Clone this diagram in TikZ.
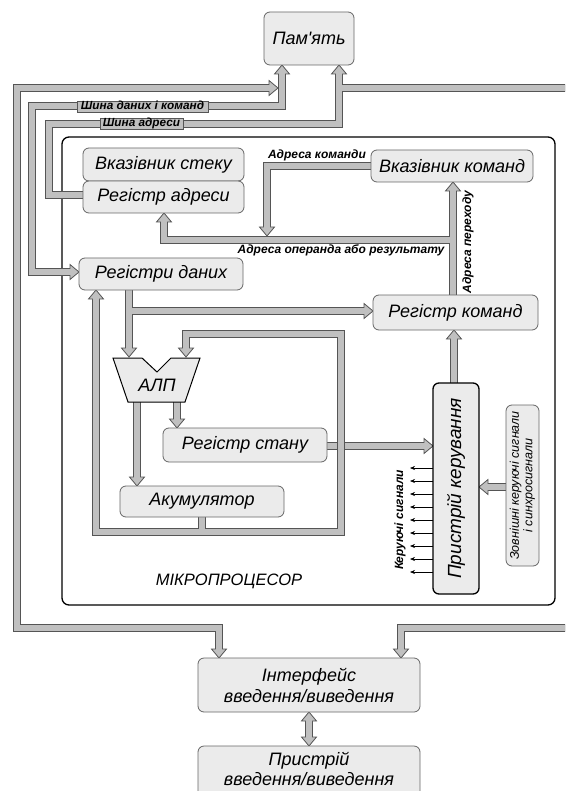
\documentclass[tikz,border=0pt]{standalone}
\usepackage{fontspec}
\setmainfont{Liberation Sans}
\usetikzlibrary{arrows.meta}
\definecolor{busfill}{HTML}{C0C0C0}
\definecolor{busline}{HTML}{555555}
\definecolor{boxfill}{HTML}{EBEBEB}
\definecolor{boxline}{HTML}{666666}
\newcommand\mainf{\fontsize{18}{21}\selectfont\itshape}
\newcommand\lblf{\fontsize{12}{14}\selectfont\bfseries\itshape}
\newcommand\busf{\fontsize{11.8}{12}\selectfont\bfseries\itshape}
\newcommand\btip[2]{\draw[tipstyle,shift={#1},rotate=#2] (0,0) -- (-9,7.5) -- (-9,-7.5) -- cycle;}
\newcommand\allbus[1]{%
 \draw[#1] (219,650) -- (219,628) -- (17,628) -- (17,88) -- (270,88);
 \draw[#1] (575,88) -- (339,88);
 \draw[#1] (339,73) -- (339,124) -- (49,124) -- (49,195) -- (ra.west |- 0,195);
 \draw[#1] (575,628) -- (401,628) -- (401,650);
 \draw[#1] (282,73) -- (282,106) -- (32,106) -- (32,272) -- (71,272);
 \draw[#1] (vk.west) -| (267,228);
 \draw[#1] (164,221) -- (164,240) -- (453,240);
 \draw[#1] (453,295) -- (453,190);
 \draw[#1] (129,290) -- (129,349);
 \draw[#1] (129,311) -- (365,311);
 \draw[#1] (96,298) -- (96,532) -- (341,532) -- (341,334) -- (186,334) -- (186,349);
 \draw[#1] (202,517) -- (202,532);
 \draw[#1] (137,400) -- (137,478);
 \draw[#1] (177,400) -- (177,420);
 \draw[#1] (454,384) -- (454,338);
 \draw[#1] (507,487) -- (487,487);
 \draw[#1] (309,720) -- (309,738);
}
\begin{document}
\begin{tikzpicture}[x=1pt,y=-1pt,
  box/.style={draw=boxline,fill=boxfill,rounded corners=6pt,line width=0.8pt,inner sep=0pt,font=\mainf,align=center},
  busout/.style={draw=busline,line width=8pt,line join=miter,line cap=butt},
  busin/.style={draw=busfill,line width=6pt,line join=miter,line cap=butt},
  tipstyle/.style={draw=busline,fill=busfill,line width=0.8pt,line join=miter},
  buslbl/.style={draw=busline,fill=busfill,line width=0.8pt,inner sep=0pt,minimum height=11pt,text height=8.4pt,text depth=2pt,font=\busf},
  lbl/.style={font=\lblf,inner sep=0pt},
  sig/.style={-{Stealth[length=5pt,width=4pt]},line width=0.6pt}]
\clip (0,0) rectangle (565,791);
\fill[white] (0,0) rectangle (565,791);
% microprocessor frame
\draw[line width=1.3pt,rounded corners=7pt] (62,137) rectangle (555,605);
\node[font=\fontsize{16.5}{18}\selectfont\itshape] (mptext) at (229,581) {МІКРОПРОЦЕСОР};
% anchor helpers for the buses
\path (452,166) node[minimum width=162pt,minimum height=32pt,inner sep=0pt] (vk) {};
\coordinate (ra) at (83,197);
% status register bus (under the loop bus)
\draw[busout] (327,446) -- (425,446);
\btip{(433,446)}{0}
\draw[busin] (327,446) -- (425,446);
% all other buses
\allbus{busout}
\btip{(278,88)}{0}
\btip{(339,65)}{90}
\btip{(282,65)}{90}
\btip{(219,658)}{-90}
\btip{(401,658)}{-90}
\btip{(79,272)}{0}
\btip{(267,236)}{-90}
\btip{(164,213)}{90}
\btip{(453,182)}{90}
\btip{(129,357)}{-90}
\btip{(373,311)}{0}
\btip{(96,290)}{90}
\btip{(186,357)}{-90}
\btip{(137,486)}{-90}
\btip{(177,428)}{-90}
\btip{(454,330)}{90}
\btip{(479,487)}{180}
\btip{(309,712)}{90}
\btip{(309,746)}{-90}
\allbus{busin}
% bus labels
\node[buslbl,minimum width=131pt] (l1) at (142.5,106.5) {Шина даних і команд};
\node[buslbl,minimum width=83pt] (l2) at (141.5,123.5) {Шина адреси};
% boxes
\node[box,minimum width=90pt,minimum height=53pt] (mem) at (309,38.5) {Пам\textquotesingle ять};
\node[box,minimum width=161pt,minimum height=33pt] (vs) at (163.5,164.5) {Вказівник стеку};
\node[box,minimum width=161pt,minimum height=32pt] (rareg) at (163.5,197) {Регістр адреси};
\node[box,minimum width=162pt,minimum height=32pt] (vkreg) at (452,166) {Вказівник команд};
\node[box,minimum width=164pt,minimum height=32pt] (rd) at (161,274) {Регістри даних};
\node[box,minimum width=165pt,minimum height=35pt] (rk) at (455.5,312.5) {Регістр команд};
\node[box,minimum width=164pt,minimum height=34pt] (rs) at (245,445) {Регістр стану};
\node[box,minimum width=164pt,minimum height=31pt] (ak) at (202,501.5) {Акумулятор};
\node[box,draw=black,line width=1.3pt,minimum width=211pt,minimum height=46pt,rotate=90,font=\fontsize{19}{22}\selectfont\itshape] (pk) at (456,488.5) {Пристрій керування};
\node[box,minimum width=161pt,minimum height=33pt,rotate=90,font=\fontsize{12.5}{13.5}\selectfont\itshape] (zk) at (522.5,485.5) {Зовнішні керуючі сигнали\\і синхросигнали};
\node[box,minimum width=222pt,minimum height=54pt] (io) at (309,685) {Інтерфейс\\[0pt]введення/виведення};
\node[box,minimum width=222pt,minimum height=54pt] (dev) at (309,773) {};
\node[font=\mainf,align=center,inner sep=0pt] (devtext) at (309,769) {Пристрій\\[-1pt]введення/виведення};
% ALU
\draw[fill=boxfill,draw=black,line width=1pt,line join=miter] (113,358) -- (142,358) -- (157,372) -- (171,358) -- (200,358) -- (185,402) -- (128,402) -- cycle;
\node[font=\mainf] (alu) at (157,385) {АЛП};
% control signals
\foreach \yy in {468,481,494,507,520,533,546,559,572}
  \draw[sig] (433,\yy) -- (410,\yy);
% labels
\node[lbl] (lak) at (317,155) {Адреса команди};
\node[lbl] (lao) at (341,250) {Адреса операнда або результату};
\node[lbl,rotate=90] (lap) at (468,242) {Адреса переходу};
\node[lbl,rotate=90] (lks) at (400,520) {Керуючі сигнали};
\end{tikzpicture}
\end{document}
